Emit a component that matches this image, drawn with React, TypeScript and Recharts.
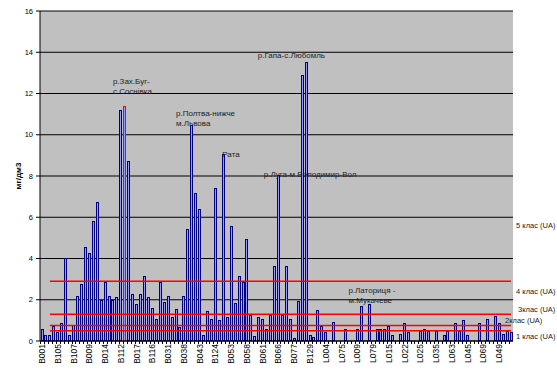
import { BarChart, Bar, XAxis, YAxis, CartesianGrid, ReferenceLine, ReferenceDot, Cell } from "recharts";

// every 4th category carries a label on the axis
const tickLabels = [
  "B001", "B105", "B107", "B009", "B014", "B112", "B017", "B116", "B031", "B038",
  "B043", "B124", "B053", "B058", "B061", "B066", "B077", "B129", "L004", "L075",
  "L009", "L079", "L015", "L022", "L025", "L035", "L063", "L045", "L069", "L049",
];

// мг/дм3, one per sampling point (null = no bar)
const values: (number | null)[] = [
  0.57, 0.28, 0.28, 0.72, 0.42, 0.85, 4.03, 0.28, 0.8, 2.2,
  2.78, 4.57, 4.28, 5.8, 6.72, 2.0, 2.84, 2.2, 2.0, 2.15,
  11.2, 11.38, 8.72, 2.28, 1.77, 2.28, 3.15, 2.15, 1.58, 1.05,
  2.88, 1.9, 2.2, 1.15, 1.57, 0.68, 2.2, 5.45, 10.47, 7.16,
  6.38, 0.28, 1.46, 1.07, 7.4, 1.03, 9.05, 1.16, 5.57, 1.83,
  3.14, 2.85, 4.95, 1.27, 0.24, 1.16, 1.07, 0.58, 1.27, 3.64,
  8.05, 1.27, 3.64, 1.06, 0.14, 1.94, 12.89, 13.52, 0.29, 0.19,
  1.5, 0.73, 0.42, null, 0.91, null, null, 0.58, null, null,
  0.58, 1.72, null, 1.77, null, 0.58, 0.58, 0.58, 0.73, 0.29,
  null, 0.34, 0.87, 0.44, null, null, 0.5, 0.58, 0.5, null,
  0.5, null, 0.29, 0.5, null, 0.87, 0.5, 1.0, 0.29, null,
  null, 0.87, null, 1.05, null, 1.2, 0.87, 0.34, 0.5, 0.44,
];

const highlighted = 21;

const classLimits = [2.9, 1.3, 0.75, 0.5];
const classLabels = ["5 клас (UA)", "4 клас (UA)", "3клас (UA)", "2клас (UA)", "1 клас (UA)"];
const classLabelLevels = [5.47, 2.28, 1.4, 0.87, 0.11];
const classLabelShift = [5, 5, 7, -6, 5];

const noteText = [
  ["р.Зах.Буг-", "с.Соснівка"],
  ["р.Полтва-нижче", "м.Львова"],
  ["Рата"],
  ["р.Гапа-с.Любомль"],
  ["р.Луга-м.Володимир-Вол"],
  ["р.Латориця -", "м.Мукачеве"],
];
const noteAt = [18, 34, 46, 55, 56, 78];
const noteLevel = [12.48, 10.92, 8.93, 13.7, 7.96, 2.31];
const noteShift = [0, 0, -1, -1, 1, -1];

const yTicks = [0, 2, 4, 6, 8, 10, 12, 14, 16];

const names = values.map((_, i) => (i % 4 === 0 ? tickLabels[i / 4] : `c${i}`));
const data = values.map((v, i) => ({ name: names[i], value: v }));

const FONT = "'Liberation Sans', Arial, sans-serif";

const BarShape = (props: any) => {
  const { x, y, width, height, index } = props;
  if (height == null || height <= 0) return null;
  const x0 = Math.round(x + width / 2 - 1.5);
  const top = Math.round(y) + 0.5;
  const bottom = Math.round(y + height) - 0.5;
  return (
    <rect
      x={x0 + 0.5}
      y={top}
      width={2}
      height={Math.max(bottom - top, 0.5)}
      fill="#9999FF"
      stroke={index === highlighted ? "#FF0000" : "#000080"}
      strokeWidth={1}
    />
  );
};

const XTick = (props: any) => {
  const { x, y, index, payload } = props;
  const bx = Math.round(x - 1.97) + 0.5;
  return (
    <g>
      <line x1={bx} y1={y} x2={bx} y2={y + 3} stroke="#000" />
      {index % 4 === 0 && (
        <text
          x={x + 3}
          y={y + 3}
          transform={`rotate(-90, ${x + 3}, ${y + 3})`}
          textAnchor="end"
          fontSize={8.5}
          fontFamily={FONT}
          fill="#000"
        >
          {payload.value}
        </text>
      )}
    </g>
  );
};

const textLabel = (lines: string[], dx: number, size = 8) => (props: any) => {
  const { x, y } = props.viewBox;
  return (
    <text x={x + dx} y={y} fontSize={size} fontFamily={FONT} fill="#222">
      {lines.map((l, k) => (
        <tspan key={k} x={x + dx} dy={k === 0 ? 0 : 10}>
          {l}
        </tspan>
      ))}
    </text>
  );
};

const AxisTitle = (props: any) => {
  const { viewBox } = props;
  const cx = viewBox.x + 21;
  const cy = viewBox.y + viewBox.height / 2;
  return (
    <text
      x={cx}
      y={cy}
      transform={`rotate(-90, ${cx}, ${cy})`}
      textAnchor="middle"
      fontSize={8}
      fontWeight="bold"
      fontFamily={FONT}
      fill="#000"
    >
      мг/дм3
    </text>
  );
};

export default function App() {
  return (
    <div style={{ position: "absolute", left: 0, top: 0, background: "#fff" }}>
      <BarChart
        width={557}
        height={371}
        data={data}
        margin={{ top: 11, right: 44, bottom: 0, left: 0 }}
        barCategoryGap={1}
      >
        <CartesianGrid vertical={false} stroke="#000" fill="#C0C0C0" fillOpacity={1} />
        <XAxis
          dataKey="name"
          interval={0}
          height={30}
          tick={<XTick />}
          tickLine={false}
          tickSize={0}
          tickMargin={0}
          axisLine={{ stroke: "#000" }}
        />
        <YAxis
          domain={[0, 16]}
          ticks={yTicks}
          width={40}
          tickSize={4}
          tickMargin={3}
          axisLine={{ stroke: "#000" }}
          tickLine={{ stroke: "#000" }}
          tick={{ fontSize: 7.5, fill: "#000", fontFamily: FONT }}
          label={{ content: <AxisTitle /> } as any}
        />
        <Bar dataKey="value" shape={<BarShape />} isAnimationActive={false}>
          {data.map((_, i) => (
            <Cell key={i} />
          ))}
        </Bar>
        {classLimits.map((lim) => (
          <ReferenceLine
            key={lim}
            segment={[
              { x: names[2], y: lim },
              { x: names[names.length - 1], y: lim },
            ]}
            stroke="#FF0000"
            strokeWidth={1.6}
            ifOverflow="visible"
          />
        ))}
        {noteText.map((lines, k) => (
          <ReferenceDot
            key={`n${k}`}
            x={names[noteAt[k]]}
            y={noteLevel[k]}
            r={0}
            fill="none"
            stroke="none"
            ifOverflow="visible"
            label={{ content: textLabel(lines, noteShift[k]) } as any}
          />
        ))}
        {classLabels.map((t, k) => (
          <ReferenceDot
            key={`c${k}`}
            x={names[names.length - 1]}
            y={classLabelLevels[k]}
            r={0}
            fill="none"
            stroke="none"
            ifOverflow="visible"
            label={{ content: textLabel([t], classLabelShift[k], 7.5) } as any}
          />
        ))}
      </BarChart>
    </div>
  );
}
